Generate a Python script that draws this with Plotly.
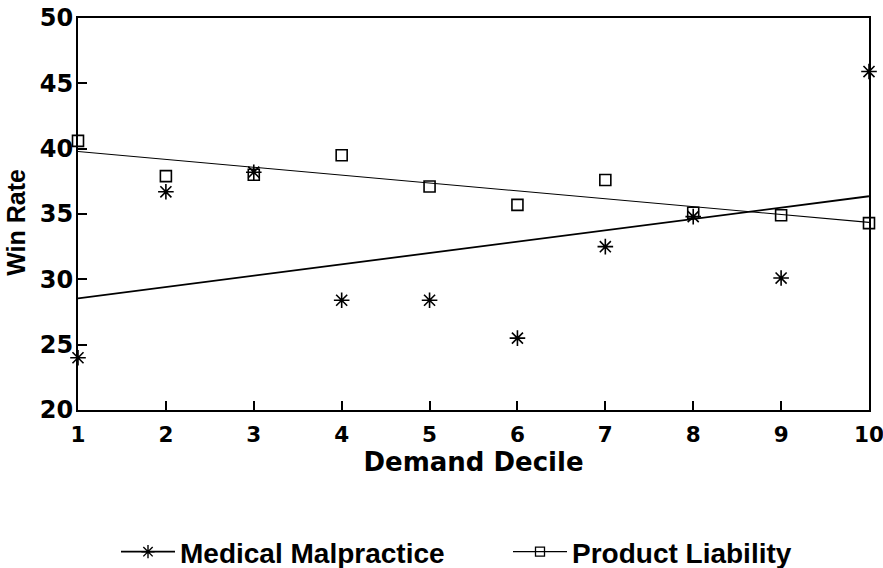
import numpy as np
import plotly.graph_objects as go

deciles = [1, 2, 3, 4, 5, 6, 7, 8, 9, 10]
medical_malpractice = [24.0, 36.7, 38.2, 28.4, 28.4, 25.5, 32.5, 34.8, 30.1, 45.9]
product_liability = [40.6, 37.9, 38.0, 39.5, 37.1, 35.7, 37.6, 35.1, 34.9, 34.3]
series_names = ["Medical Malpractice", "Product Liability"]
y_ticks = [20, 25, 30, 35, 40, 45, 50]
x_ticks = deciles

x = np.array(deciles, dtype=float)
fit_m = np.polyval(np.polyfit(x, medical_malpractice, 1), [x[0], x[-1]])
fit_p = np.polyval(np.polyfit(x, product_liability, 1), [x[0], x[-1]])

fig = go.Figure()
# fitted lines
fig.add_trace(go.Scatter(x=[x[0], x[-1]], y=fit_m, mode="lines",
                         line=dict(color="black", width=1.8), showlegend=False, cliponaxis=False))
fig.add_trace(go.Scatter(x=[x[0], x[-1]], y=fit_p, mode="lines",
                         line=dict(color="black", width=1.1), showlegend=False, cliponaxis=False))
# points
fig.add_trace(go.Scatter(x=deciles, y=medical_malpractice, mode="markers", showlegend=False,
                         marker=dict(symbol="asterisk-open", size=13, color="black",
                                     line=dict(color="black", width=1.6)), cliponaxis=False))
fig.add_trace(go.Scatter(x=deciles, y=product_liability, mode="markers", showlegend=False,
                         marker=dict(symbol="square-open", size=11, color="black",
                                     line=dict(color="black", width=1.6)), cliponaxis=False))
# legend entries
fig.add_trace(go.Scatter(x=[None], y=[None], mode="lines+markers", name=series_names[0],
                         legend="legend",
                         line=dict(color="black", width=1.8),
                         marker=dict(symbol="asterisk-open", size=11, color="black",
                                     line=dict(color="black", width=1.4))))
fig.add_trace(go.Scatter(x=[None], y=[None], mode="lines+markers", name=series_names[1],
                         legend="legend2",
                         line=dict(color="black", width=1.3),
                         marker=dict(symbol="square-open", size=9, color="black",
                                     line=dict(color="black", width=1.3))))

legend_font = dict(family="Liberation Sans", size=28, color="black", weight="bold")
fig.update_layout(
    width=883, height=568,
    margin=dict(l=78, r=14, t=18, b=158),
    paper_bgcolor="white", plot_bgcolor="white",
    showlegend=True,
    legend=dict(orientation="h", x=(116 - 78) / 791, xanchor="left",
                yref="container", y=1 - 552 / 568, yanchor="middle",
                font=legend_font, itemwidth=54, bgcolor="rgba(0,0,0,0)"),
    legend2=dict(orientation="h", x=(508 - 78) / 791, xanchor="left",
                 yref="container", y=1 - 552 / 568, yanchor="middle",
                 font=legend_font, itemwidth=54, bgcolor="rgba(0,0,0,0)"),
    xaxis=dict(range=[1, 10], tickvals=x_ticks, ticktext=[str(v) for v in x_ticks],
               showgrid=False, zeroline=False, showline=True, mirror=True, automargin=False,
               linecolor="black", linewidth=2, ticks="inside", ticklen=9, tickwidth=1.6,
               tickcolor="black",
               tickfont=dict(family="DejaVu Sans", size=21.5, color="black", weight="bold"),
               ticklabelstandoff=4, ticklabeloverflow="allow",
               title=dict(text="Demand Decile", standoff=3,
                          font=dict(family="DejaVu Sans", size=26, color="black", weight="bold"))),
    yaxis=dict(range=[20, 50], tickvals=y_ticks, ticktext=[str(v) for v in y_ticks],
               showgrid=False, zeroline=False, showline=True, mirror=True, automargin=False,
               linecolor="black", linewidth=2, ticks="inside", ticklen=9, tickwidth=1.6,
               tickcolor="black",
               tickfont=dict(family="DejaVu Sans", size=24, color="black", weight="bold"),
               ticklabelstandoff=-2, ticklabeloverflow="allow"),
    annotations=[dict(text="Win Rate", xref="paper", yref="paper", x=(16 - 78) / 791, y=0.48,
                      xanchor="center", yanchor="middle", textangle=-90, showarrow=False,
                      font=dict(family="Liberation Sans", size=25, color="black", weight="bold"))],
)

# remove the browser's default 8px body margin so the figure fills the window exactly
fig.write_html("out.html", config={"displayModeBar": False},
               post_script="document.body.style.margin='0';")
